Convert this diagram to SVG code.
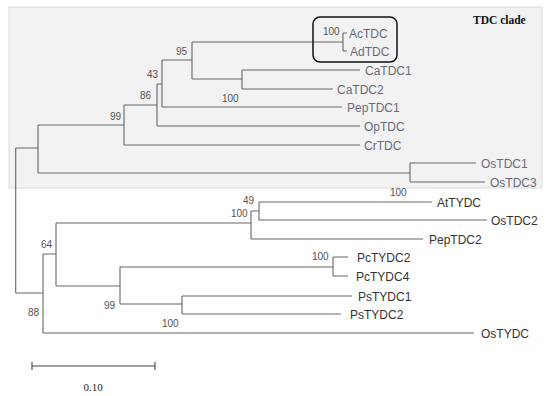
<svg xmlns="http://www.w3.org/2000/svg" width="550" height="396" viewBox="0 0 550 396">
<style>
.br{fill:none;stroke:#666;stroke-width:1.1}
.lt{font-family:"Liberation Sans",Arial,sans-serif;font-size:12px;fill:#6a6a78}
.ld{font-family:"Liberation Sans",Arial,sans-serif;font-size:12px;fill:#333}
.bs{font-family:"Liberation Sans",Arial,sans-serif;font-size:10px;fill:#555}
</style>
<rect x="0" y="0" width="550" height="396" fill="#fff"/>
<g id="tdc-clade-panel">
<rect x="9" y="7" width="533" height="181" fill="#f2f2f2" stroke="#dcdcdc" stroke-width="1"/>
<text x="473" y="24" font-family="'Liberation Serif','Times New Roman',serif" font-size="11.5px" font-weight="bold" fill="#111">TDC clade</text>
</g>
<g id="connectors">
<path class="br" d="M15.7,148 V293 M15.7,148 H38 M38,125 V173 M38,173 H410 M410,163 V182 M410,163 H476 M410,182 H485
M38,125 H124 M124,105 V145 M124,145 H360 M124,105 H157 M157,84 V126 M157,126 H360 M157,84 H162 M162,60 V107 M162,107 H342
M162,60 H192 M192,42 V79 M192,42 H343 M343,33 V51 M343,33 H347 M343,51 H347 M192,79 H242 M242,70 V89 M242,70 H360 M242,89 H333"/>
<path class="br" d="M15.7,293 H43 M43,254 V333 M43,333 H474 M43,254 H56 M56,223 V286 M56,223 H251 M251,211 V239 M251,239 H423 M251,211 H259 M259,202 V220 M259,202 H432 M259,220 H487
M56,286 H120 M120,267 V304 M120,267 H333 M333,257 V276 M333,257 H348 M333,276 H348 M120,304 H182 M182,296 V314 M182,296 H352 M182,314 H341"/>
</g>
<g id="box-AcTDC-AdTDC">
<rect x="313" y="17" width="84" height="45" rx="7" fill="none" stroke="#111" stroke-width="1.5"/>
</g>
<g id="AcTDC"><text class="lt" x="349" y="37.5">AcTDC</text></g>
<g id="AdTDC"><text class="lt" x="350" y="56">AdTDC</text></g>
<g id="CaTDC1"><text class="lt" x="365" y="74.5">CaTDC1</text></g>
<g id="CaTDC2"><text class="lt" x="337" y="93.5">CaTDC2</text></g>
<g id="PepTDC1"><text class="lt" x="347" y="111.5">PepTDC1</text></g>
<g id="OpTDC"><text class="lt" x="364" y="130.5">OpTDC</text></g>
<g id="CrTDC"><text class="lt" x="364" y="149.5">CrTDC</text></g>
<g id="OsTDC1"><text class="lt" x="481" y="167.5">OsTDC1</text></g>
<g id="OsTDC3"><text class="lt" x="490" y="186.5">OsTDC3</text></g>
<g id="AtTYDC"><text class="ld" x="437" y="206.5">AtTYDC</text></g>
<g id="OsTDC2"><text class="ld" x="491" y="224.5">OsTDC2</text></g>
<g id="PepTDC2"><text class="ld" x="429" y="243.5">PepTDC2</text></g>
<g id="PcTYDC2"><text class="ld" x="357" y="261.5">PcTYDC2</text></g>
<g id="PcTYDC4"><text class="ld" x="356" y="280.5">PcTYDC4</text></g>
<g id="PsTYDC1"><text class="ld" x="358" y="300.5">PsTYDC1</text></g>
<g id="PsTYDC2"><text class="ld" x="350" y="318.5">PsTYDC2</text></g>
<g id="OsTYDC"><text class="ld" x="481" y="337.5">OsTYDC</text></g>
<g id="bootstrap">
<text class="bs" x="323" y="35" font-size="7px">100</text>
<text class="bs" x="176" y="55">95</text>
<text class="bs" x="147" y="78">43</text>
<text class="bs" x="140" y="99">86</text>
<text class="bs" x="222" y="102">100</text>
<text class="bs" x="110" y="120">99</text>
<text class="bs" x="390" y="196">100</text>
<text class="bs" x="243" y="204">49</text>
<text class="bs" x="231" y="217">100</text>
<text class="bs" x="41" y="248">64</text>
<text class="bs" x="312" y="260">100</text>
<text class="bs" x="104" y="309">99</text>
<text class="bs" x="28" y="316">88</text>
<text class="bs" x="162" y="327">100</text>
</g>
<g id="scale-bar">
<path d="M32,366 H155 M32,362 V370 M155,362 V370" fill="none" stroke="#444" stroke-width="1.1"/>
<text x="93" y="391" text-anchor="middle" font-family="'Liberation Serif','Times New Roman',serif" font-size="11px" fill="#222">0.10</text>
</g>
</svg>
